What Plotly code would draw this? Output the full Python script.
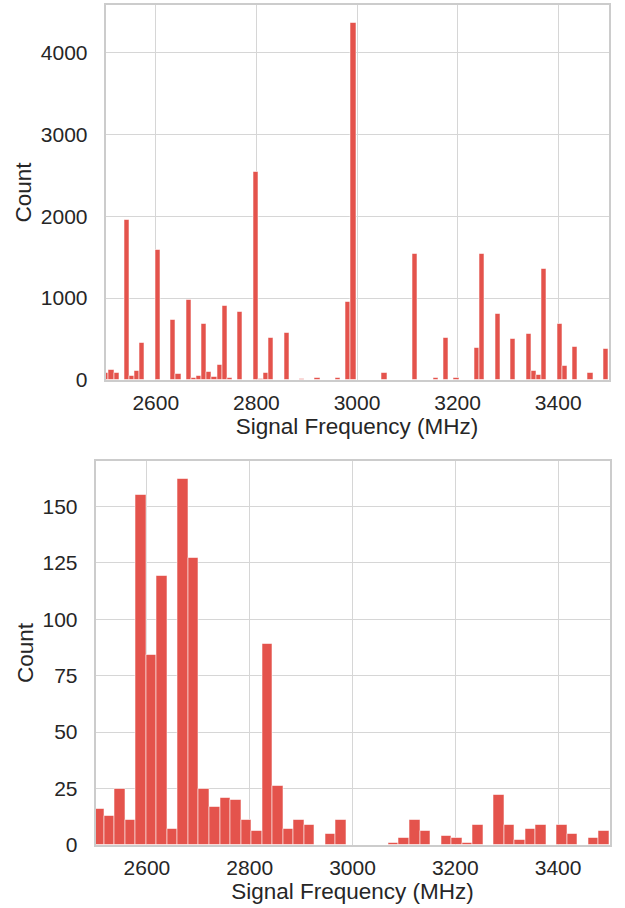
import numpy as np
import plotly.graph_objects as go

# ---- data -------------------------------------------------------------
# Upper panel: histogram with narrow bins
fine_bin_start = 2496.5
fine_bin_width = 10.24
fine_counts = [
    90, 122, 90, 0, 1955, 49, 110, 449, 0, 0,
    1592, 0, 0, 730, 69, 0, 980, 25, 49, 682,
    102, 37, 188, 898, 25, 0, 833, 0, 0, 2535,
    16, 90, 518, 0, 0, 575, 0, 0, 16, 0,
    0, 29, 0, 0, 0, 29, 0, 959, 4363, 0,
    0, 0, 0, 0, 82, 0, 0, 0, 0, 0,
    1539, 0, 0, 0, 25, 0, 510, 0, 25, 0,
    0, 0, 388, 1539, 0, 0, 804, 0, 0, 502,
    0, 0, 563, 114, 65, 1355, 0, 0, 686, 175,
    0, 400, 0, 0, 82, 0, 0, 380,
]

# Lower panel: histogram with wider bins
coarse_bin_start = 2496.5
coarse_bin_width = 20.48
coarse_counts = [
    16, 13, 25, 11, 155, 84, 119, 7, 162, 127,
    25, 17, 21, 20, 11, 6, 89, 26, 7, 11,
    9, 0, 5, 11, 0, 0, 0, 0, 1, 3,
    11, 6, 0, 4, 3, 1, 9, 0, 22, 9,
    2, 7, 9, 0, 9, 5, 0, 3, 6,
]

x_range = [2500, 3500]
x_ticks = [2600, 2800, 3000, 3200, 3400]
x_title = "Signal Frequency (MHz)"
y_title = "Count"

# ---- styling ----------------------------------------------------------
W, H = 625, 908
BAR_COLOR = "#e4534c"
EDGE_COLOR = "rgba(255,255,255,0.55)"
GRID_COLOR = "#d6d6d6"
FRAME_COLOR = "#cccccc"
TEXT_COLOR = "#262626"
FONT = "Liberation Sans, Arial, sans-serif"


def bars(start, width, counts, xa, ya):
    counts = np.asarray(counts, dtype=float)
    centers = start + width * (np.arange(len(counts)) + 0.5)
    keep = counts > 0
    return go.Bar(
        x=centers[keep],
        y=counts[keep],
        width=width,
        marker=dict(color=BAR_COLOR, line=dict(color=EDGE_COLOR, width=1)),
        xaxis=xa,
        yaxis=ya,
        showlegend=False,
        hoverinfo="x+y",
    )


fig = go.Figure()
fig.add_trace(bars(fine_bin_start, fine_bin_width, fine_counts, "x", "y"))
fig.add_trace(bars(coarse_bin_start, coarse_bin_width, coarse_counts, "x2", "y2"))

tick_font = dict(family=FONT, size=21, color=TEXT_COLOR)
title_font = dict(family=FONT, size=22.5, color=TEXT_COLOR)


def xaxis(domain, anchor):
    return dict(
        domain=domain, anchor=anchor, range=x_range, automargin=False,
        tickvals=x_ticks, ticks="", showgrid=True, gridcolor=GRID_COLOR, gridwidth=1,
        showline=True, mirror=True, linecolor=FRAME_COLOR, linewidth=1.5,
        zeroline=False, tickfont=tick_font, ticklabelstandoff=3,
        title=dict(text=x_title, font=title_font, standoff=5),
    )


def yaxis(domain, anchor, top, dtick):
    return dict(
        domain=domain, anchor=anchor, range=[0, top], automargin=False,
        dtick=dtick, tick0=0, ticks="", showgrid=True, gridcolor=GRID_COLOR, gridwidth=1,
        showline=True, mirror=True, linecolor=FRAME_COLOR, linewidth=1.5,
        zeroline=False, tickfont=tick_font, ticklabelstandoff=12,
        title=dict(text=y_title, font=title_font, standoff=3),
    )


fig.update_layout(
    width=W, height=H,
    margin=dict(l=0, r=0, t=0, b=0),
    paper_bgcolor="white", plot_bgcolor="white",
    font=dict(family=FONT, color=TEXT_COLOR),
    bargap=0,
    xaxis=xaxis([105.5 / W, 608.5 / W], "y"),
    yaxis=yaxis([1 - 380 / H, 1 - 5 / H], "x", 1.05 * max(fine_counts), 1000),
    xaxis2=xaxis([95.5 / W, 609.5 / W], "y2"),
    yaxis2=yaxis([1 - 845 / H, 1 - 461 / H], "x2", 1.05 * max(coarse_counts), 25),
)

fig.write_html("out.html")
